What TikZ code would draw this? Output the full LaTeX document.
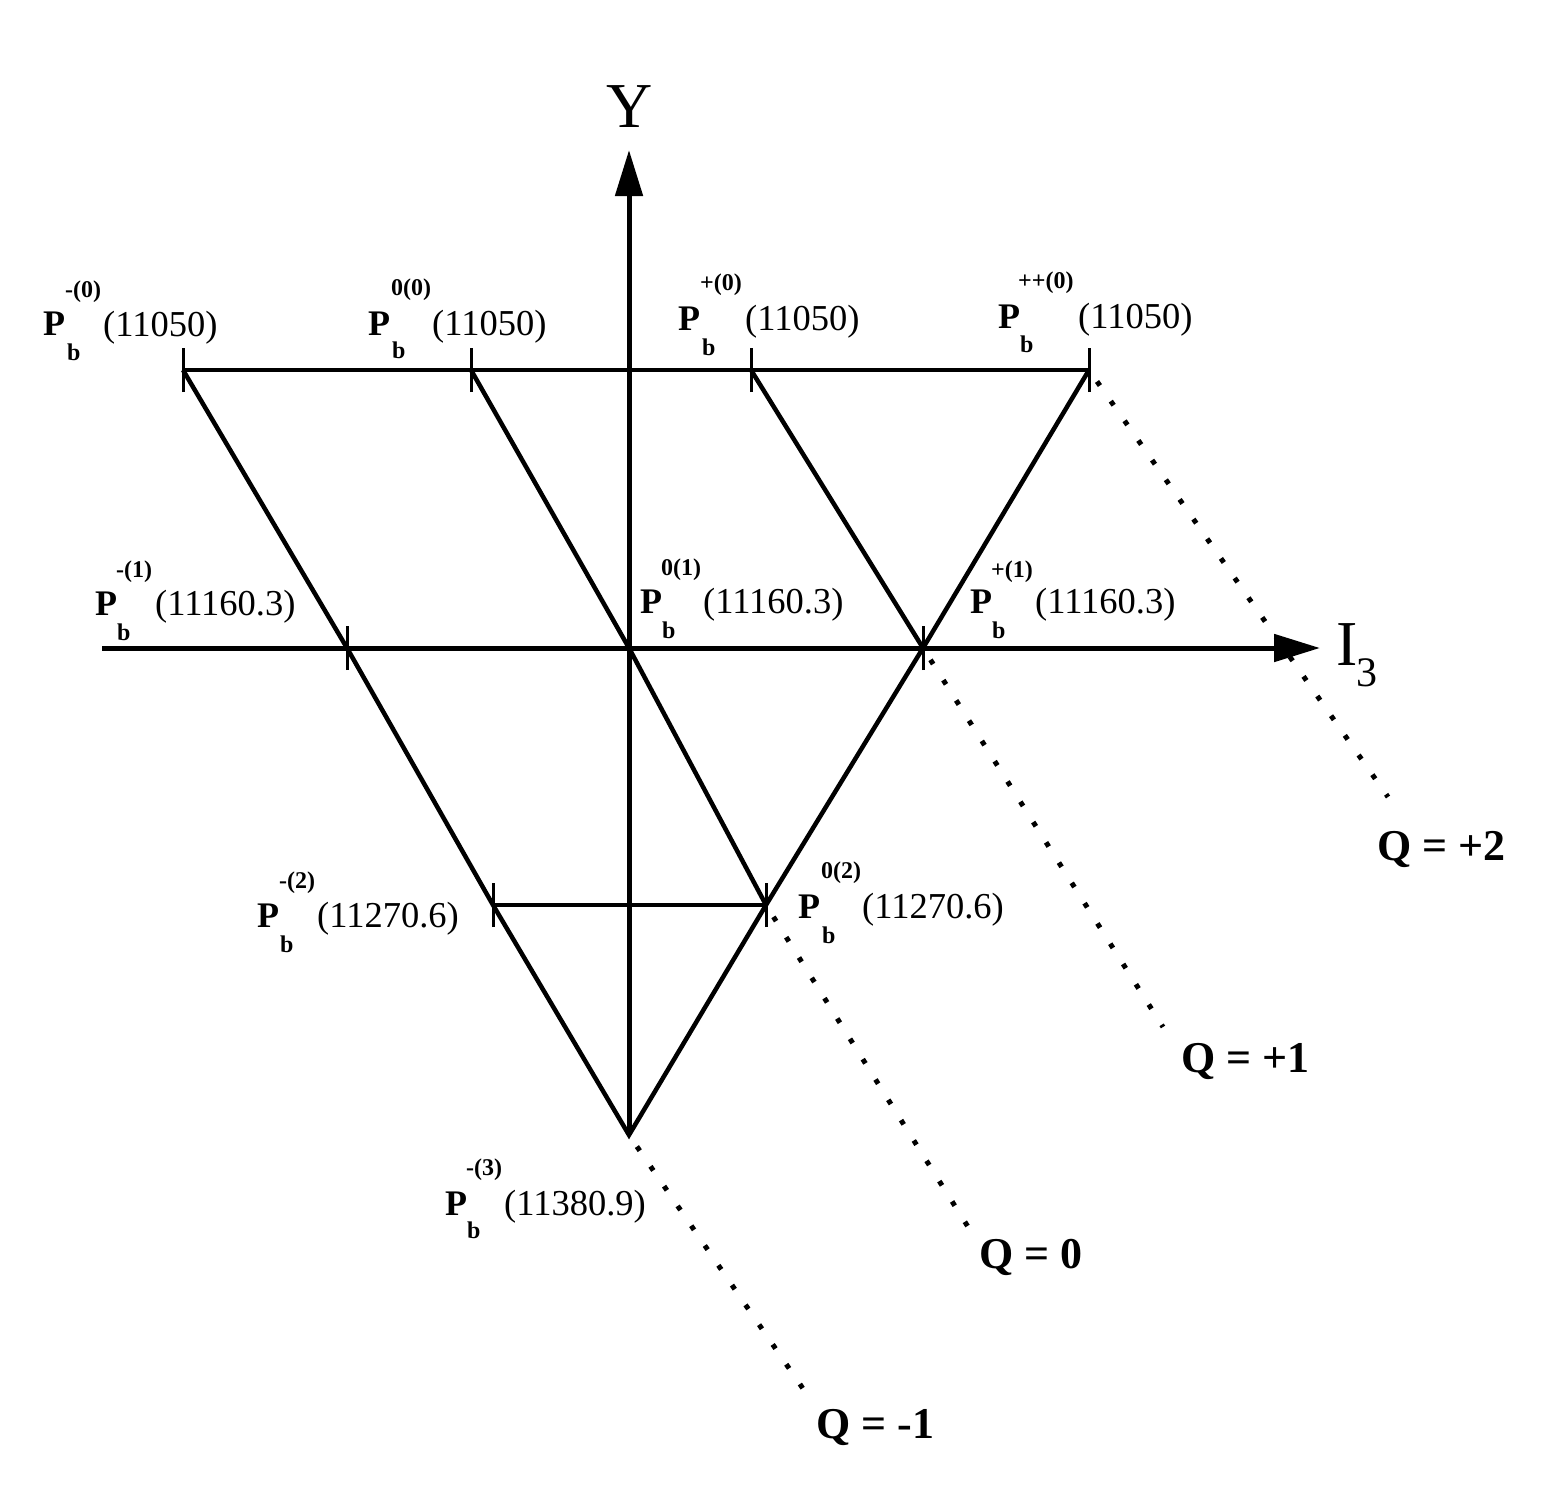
\documentclass[tikz,border=0pt]{standalone}
\usepackage{fontspec}
\setmainfont{Liberation Serif}
\usetikzlibrary{arrows.meta}
\begin{document}
\begin{tikzpicture}[x=1pt,y=-1pt,
  edge/.style={line width=4.5pt},
  axis/.style={line width=5pt,-{Triangle[length=46pt,width=27pt]}},
  tick/.style={line width=3pt},
  qline/.style={line width=5pt,dash pattern=on 5pt off 19pt,dash phase=10pt},
  pmain/.style={inner sep=0pt,anchor=base west,font=\fontsize{36}{40}\selectfont\bfseries},
  psup/.style={inner sep=0pt,anchor=south west,font=\fontsize{24}{28}\selectfont\bfseries},
  psub/.style={inner sep=0pt,anchor=base west,font=\fontsize{24}{28}\selectfont\bfseries},
  pval/.style={inner sep=0pt,anchor=base west,font=\fontsize{36.5}{40}\selectfont},
  qlab/.style={inner sep=0pt,anchor=base west,font=\fontsize{44}{48}\selectfont\bfseries},
  axlab/.style={inner sep=0pt,anchor=base west,font=\fontsize{64}{70}\selectfont}
]
\useasboundingbox (0,0) rectangle (1544,1491);
% vertices
\coordinate (a0) at (183,370);
\coordinate (a1) at (471,370);
\coordinate (a2) at (751,370);
\coordinate (a3) at (1089,370);
\coordinate (b0) at (347,648);
\coordinate (b1) at (629,648);
\coordinate (b2) at (923,648);
\coordinate (c0) at (493,905);
\coordinate (c1) at (766,905);
\coordinate (d0) at (629,1135);
% axes
\coordinate (xs) at (102,648);
\coordinate (xe) at (1320,648);
\coordinate (ye) at (629,150);
\draw[axis] (xs) -- (xe);
\draw[axis] (d0) -- (ye);
% lattice
\draw[edge] (a0) -- (a3);
\draw[edge] (c0) -- (c1);
\draw[edge,line join=miter] (a0) -- (b0) -- (c0) -- (d0) -- (c1) -- (b2) -- (a3);
\draw[edge] (a1) -- (b1) -- (c1);
\draw[edge] (a2) -- (b2);
% ticks
\foreach \p in {a0,a1,a2,a3,b0,b2,c0,c1}
  \draw[tick] ([yshift=-22pt]\p) -- ([yshift=22pt]\p);
% dotted charge lines
\coordinate (q2) at (1388,797);
\coordinate (q1) at (1163,1027);
\coordinate (q0) at (970,1230);
\coordinate (qm) at (806,1393);
\draw[qline] (a3) -- (q2);
\draw[qline] (b2) -- (q1);
\draw[qline] (c1) -- (q0);
\draw[qline] (d0) -- (qm);
% axis labels
\node[axlab,anchor=base] (ylab) at (630,127) {Y};
\node[axlab] (ilab) at (1336,665) {I};
\node[inner sep=0pt,anchor=base west,font=\fontsize{42}{46}\selectfont] (ilab3) at (1356,686) {3};
% Q labels
\node[qlab] (lq2) at (1377,860) {Q = +2};
\node[qlab] (lq1) at (1181,1072) {Q = +1};
\node[qlab] (lq0) at (979,1268) {Q = 0};
\node[qlab] (lqm) at (816,1438) {Q = -1};
% particle labels
\node[pmain] (P1) at (43,335) {P};
\node[psup] (P1s) at (65,303) {-(0)};
\node[psub] (P1b) at (67,360) {b};
\node[pval] (P1v) at (103,336) {(11050)};

\node[pmain] (P2) at (368,335) {P};
\node[psup] (P2s) at (391,301) {0(0)};
\node[psub] (P2b) at (392,358) {b};
\node[pval] (P2v) at (432,335) {(11050)};

\node[pmain] (P3) at (678,330) {P};
\node[psup] (P3s) at (700,296) {+(0)};
\node[psub] (P3b) at (702,355) {b};
\node[pval] (P3v) at (745,330) {(11050)};

\node[pmain] (P4) at (998,328) {P};
\node[psup] (P4s) at (1018,294) {++(0)};
\node[psub] (P4b) at (1020,352) {b};
\node[pval] (P4v) at (1078,328) {(11050)};

\node[pmain] (P5) at (95,615) {P};
\node[psup] (P5s) at (116,583) {-(1)};
\node[psub] (P5b) at (117,640) {b};
\node[pval] (P5v) at (155,615) {(11160.3)};

\node[pmain] (P6) at (640,613) {P};
\node[psup] (P6s) at (661,581) {0(1)};
\node[psub] (P6b) at (662,638) {b};
\node[pval] (P6v) at (703,613) {(11160.3)};

\node[pmain] (P7) at (970,613) {P};
\node[psup] (P7s) at (991,583) {+(1)};
\node[psub] (P7b) at (992,638) {b};
\node[pval] (P7v) at (1035,613) {(11160.3)};

\node[pmain] (P8) at (257,927) {P};
\node[psup] (P8s) at (279,894) {-(2)};
\node[psub] (P8b) at (280,952) {b};
\node[pval] (P8v) at (317,927) {(11270.6)};

\node[pmain] (P9) at (798,918) {P};
\node[psup] (P9s) at (821,884) {0(2)};
\node[psub] (P9b) at (822,943) {b};
\node[pval] (P9v) at (862,918) {(11270.6)};

\node[pmain] (P10) at (445,1215) {P};
\node[psup] (P10s) at (466,1181) {-(3)};
\node[psub] (P10b) at (467,1238) {b};
\node[pval] (P10v) at (504,1215) {(11380.9)};
\end{tikzpicture}
\end{document}
